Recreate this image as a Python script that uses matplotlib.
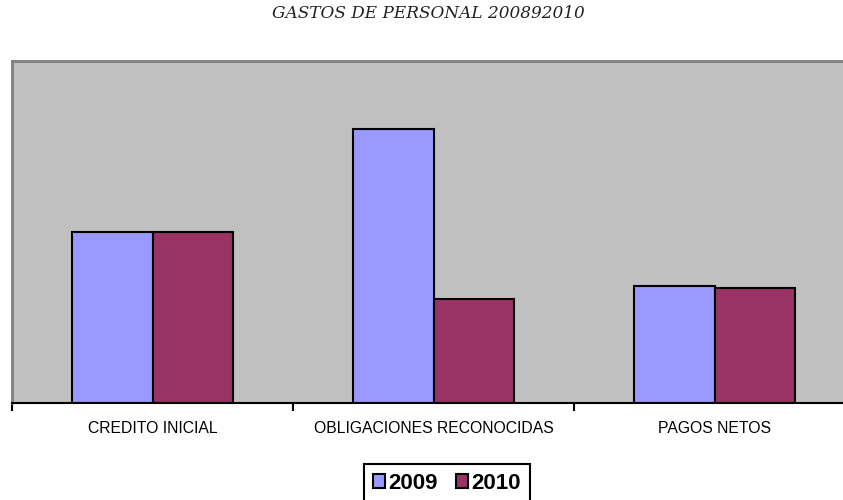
import matplotlib
matplotlib.use("Agg")
import matplotlib.pyplot as plt
from matplotlib.patches import Patch
import numpy as np

categories = ['CREDITO INICIAL', 'OBLIGACIONES RECONOCIDAS', 'PAGOS NETOS']
years = ['2009', '2010']
values_2009 = [50.0, 80.0, 34.2]
values_2010 = [50.0, 30.4, 33.5]
colors = ['#9999FF', '#993366']

fig = plt.figure(figsize=(8.43, 5), dpi=100)
ax = fig.add_axes([12 / 843, 96.7 / 500, 843 / 843, 342.8 / 500])
ax.set_facecolor('#C0C0C0')

x = np.arange(len(categories))
w = 0.285
ax.bar(x - w, values_2009, width=w, align='edge', color=colors[0], edgecolor='black', linewidth=1.5)
ax.bar(x, values_2010, width=w, align='edge', color=colors[1], edgecolor='black', linewidth=1.5)

ax.set_xlim(-0.5, len(categories) - 0.5)
ax.set_ylim(0, 100)
ax.set_yticks([])
ax.set_xticks(x)
ax.set_xticklabels(categories, fontsize=11.3, family='Liberation Sans')
ax.tick_params(axis='x', which='major', length=0, pad=13)
ax.set_xticks(np.arange(-0.5, len(categories)), minor=True)
ax.tick_params(axis='x', which='minor', length=6, width=1.5, color='black')

ax.spines['right'].set_visible(False)
for s in ['left', 'top']:
    ax.spines[s].set_color('#808080')
    ax.spines[s].set_linewidth(2)
ax.spines['bottom'].set_color('black')
ax.spines['bottom'].set_linewidth(1.5)

fig.text(0.508, 1 - 14 / 500, 'GASTOS DE PERSONAL 200892010', ha='center', va='center',
         fontsize=12.2, family='DejaVu Serif', style='italic', color='#222222')

handles = [Patch(facecolor=c, edgecolor='black', linewidth=1.5) for c in colors]
leg = fig.legend(handles, years, loc='upper left', bbox_to_anchor=(364 / 843, 1 - 464 / 500),
                 ncol=2, frameon=True, fancybox=False, edgecolor='black', framealpha=1,
                 prop={'family': 'Liberation Sans', 'weight': 'bold', 'size': 16},
                 handlelength=0.55, handleheight=0.55, handletextpad=0.15, columnspacing=0.8,
                 borderpad=0.4, borderaxespad=0)
leg.get_frame().set_linewidth(1.5)

fig.savefig('out.png', dpi=100)
